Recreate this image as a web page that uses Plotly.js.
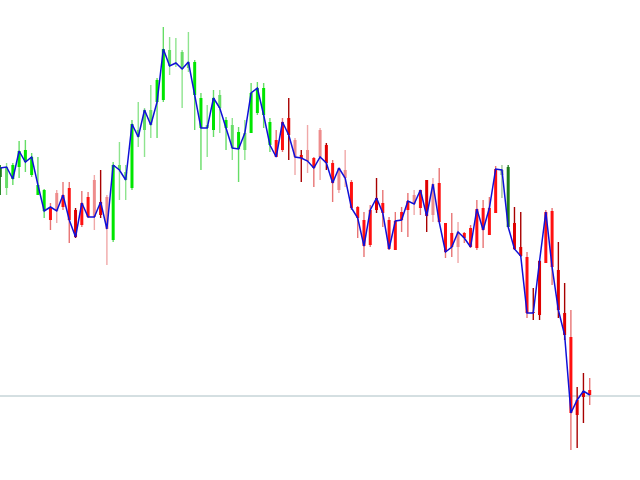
<!DOCTYPE html>
<html>
<head>
<meta charset="utf-8">
<script src="https://cdn.plot.ly/plotly-3.0.1.min.js"></script>
<style>html,body{margin:0;padding:0;background:#fff;}#chart{width:640px;height:480px;}</style>
</head>
<body>
<div id="chart"></div>
<script>
// Price values (arbitrary price scale)
const openP  = [303,292,315,313,330,305,285,290,260,287,273,292,270,255,283,300,265,283,240,315,308,292,350,350,370,400,380,430,416,428,412,418,382,355,350,385,360,355,348,330,347,367,392,358,340,330,362,340,325,330,322,350,335,317,290,310,298,273,260,235,270,277,260,230,268,270,285,272,300,265,297,257,247,233,247,252,232,272,245,267,305,313,257,233,223,168,165,217,269,210,167,143,65,83,90];
const highP  = [315,317,317,339,340,327,323,291,277,290,298,298,272,289,288,305,310,285,318,338,315,360,378,372,395,402,453,443,442,430,448,420,387,375,390,390,363,362,353,360,397,398,397,362,350,362,382,342,330,355,323,352,337,320,312,330,300,274,268,275,302,290,263,268,273,287,290,290,300,302,312,257,267,258,248,255,280,280,283,314,315,315,273,268,228,192,220,270,272,238,197,170,93,107,102];
const lowP   = [285,285,295,302,308,303,285,262,250,257,270,237,242,253,262,250,262,215,238,280,280,290,333,323,342,342,378,405,413,372,408,350,310,323,343,347,330,320,298,320,347,365,352,328,323,328,320,305,298,307,293,300,310,278,287,293,270,242,223,233,267,253,230,230,248,243,265,265,248,258,258,222,223,217,237,232,230,232,245,267,282,253,230,223,162,160,160,217,195,162,140,30,32,57,75];
const closeP = [312,313,301,329,318,323,295,269,273,269,285,260,243,277,263,263,278,251,315,310,300,356,343,370,355,378,431,414,417,411,418,385,352,352,382,372,352,332,331,347,387,392,365,335,323,358,345,323,322,319,312,323,317,297,312,302,272,262,234,270,282,267,231,259,260,279,276,290,264,296,258,228,233,248,242,233,271,250,272,311,310,253,231,224,167,167,219,268,213,170,145,67,80,89,85];
// Colour class of each bar
const barClass = ["K","g","G","G","G","G","G","G","R","r","R","R","D","R","R","r","D","r","G","g","g","G","g","g","g","G","G","g","g","g","g","G","G","g","G","g","G","g","G","g","G","G","G","G","R","R","D","r","D","r","R","r","D","R","r","r","R","R","R","R","D","R","R","R","R","R","r","R","D","r","R","R","R","r","R","R","R","R","R","R","k","K","D","D","R","D","D","R","R","D","D","R","D","D","R"];
const refLevel = 84;

const palette = {
  G: {wick:"#66dd66", body:"#00e600"},
  g: {wick:"#8ee48e", body:"#66dd66"},
  R: {wick:"#e87474", body:"#ff1010"},
  r: {wick:"#f0a8a8", body:"#ee8c8c"},
  D: {wick:"#a80000", body:"#e00000"},
  K: {wick:"#2e8b2e", body:"#1a7a1a"},
  k: {wick:"#a0c498", body:"#90b488"}
};

const idx = closeP.map((_, i) => i);
const traces = [];
const classes = Object.keys(palette);
// wicks
classes.forEach(c => {
  const xs = [], ys = [];
  idx.forEach(i => { if (barClass[i] === c) { xs.push(i, i, null); ys.push(lowP[i], highP[i], null); } });
  if (xs.length) traces.push({type:"scatter", mode:"lines", x:xs, y:ys, line:{color:palette[c].wick, width:1.4}, hoverinfo:"skip"});
});
// bodies
classes.forEach(c => {
  const xs = [], ys = [];
  idx.forEach(i => { if (barClass[i] === c) { xs.push(i, i, null); ys.push(openP[i], closeP[i], null); } });
  if (xs.length) traces.push({type:"scatter", mode:"lines", x:xs, y:ys, line:{color:palette[c].body, width:3}, hoverinfo:"skip"});
});
// close line
traces.push({type:"scatter", mode:"lines", x:idx, y:closeP, line:{color:"#1010d8", width:1.5}});

const layout = {
  width:640, height:480,
  margin:{l:0, r:0, t:0, b:0, pad:0},
  paper_bgcolor:"#ffffff", plot_bgcolor:"#ffffff",
  showlegend:false,
  xaxis:{range:[-0.048, 102.02], visible:false, fixedrange:true},
  yaxis:{range:[0, 480], visible:false, fixedrange:true},
  shapes:[{type:"line", xref:"paper", x0:0, x1:1, yref:"y", y0:refLevel, y1:refLevel, line:{color:"#aabfc4", width:1}, layer:"below"}]
};
Plotly.newPlot("chart", traces, layout, {staticPlot:true, displayModeBar:false});
</script>
</body>
</html>
